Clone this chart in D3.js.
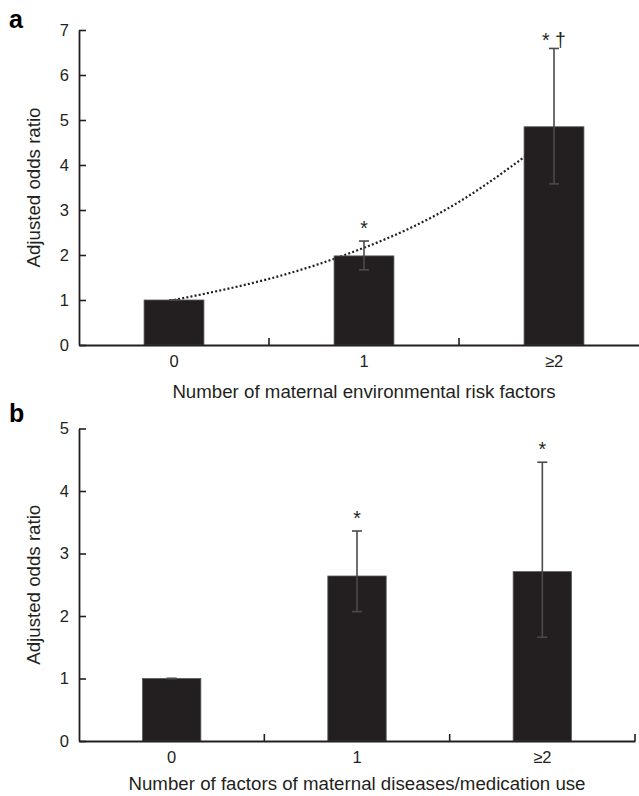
<!DOCTYPE html>
<html>
<head>
<meta charset="utf-8">
<script src="https://cdn.jsdelivr.net/npm/d3@7"></script>
<style>
  html, body { margin: 0; padding: 0; background: #fff; }
  svg { display: block; font-family: "Liberation Sans", Arial, Helvetica, sans-serif; }
</style>
</head>
<body>
<svg id="chart" width="639" height="796"></svg>
<script>
// ---------- data ----------
const categories = ["0", "1", "≥2"];

// Panel a: maternal environmental risk factors
const orA   = [1.0, 1.98, 4.85];
const loA   = [1.0, 1.67, 3.58];
const hiA   = [1.0, 2.31, 6.59];
const sigA  = ["", "*", "* †"];
const ticksA = [0, 1, 2, 3, 4, 5, 6, 7];
const trendPos = [0, 0.5, 1, 1.5, 2];          // position along categories (index units)
const trendA   = [1.0, 1.47, 2.16, 3.18, 4.68]; // dotted trend
const titleA = "Number of maternal environmental risk factors";

// Panel b: maternal diseases / medication use
const orB   = [1.0, 2.64, 2.71];
const loB   = [1.0, 2.07, 1.66];
const hiB   = [1.0, 3.36, 4.46];
const sigB  = ["", "*", "*"];
const ticksB = [0, 1, 2, 3, 4, 5];
const titleB = "Number of factors of maternal diseases/medication use";

const yTitle = "Adjusted odds ratio";

// ---------- drawing ----------
const ink = "#231f20";
const errInk = "#4a4a4a";
const svg = d3.select("#chart");

function panel(opts) {
  const g = svg.append("g");
  const x = d3.scaleBand().domain(categories).range([opts.left, opts.right]).padding(0);
  const y = d3.scaleLinear().domain([0, opts.ymax]).range([opts.bottom, opts.top]);
  const bw = x.bandwidth() * 0.315;
  const cx = c => x(c) + x.bandwidth() / 2;

  // trend line (behind bars)
  if (opts.trend) {
    const tx = d3.scaleLinear().domain([0, categories.length - 1])
      .range([cx(categories[0]), cx(categories[categories.length - 1])]);
    const line = d3.line().x((d, i) => tx(opts.trendPos[i])).y(d => y(d)).curve(d3.curveNatural);
    g.append("path").datum(opts.trend)
      .attr("d", line).attr("fill", "none")
      .attr("stroke", ink).attr("stroke-width", 2.2)
      .attr("stroke-dasharray", "2,2.2");
  }

  // bars
  g.selectAll("rect.bar").data(categories).join("rect")
    .attr("class", "bar")
    .attr("x", c => cx(c) - bw / 2)
    .attr("width", bw)
    .attr("y", (c, i) => y(opts.or[i]))
    .attr("height", (c, i) => y(0) - y(opts.or[i]))
    .attr("fill", ink).attr("stroke", "#5a5a5a").attr("stroke-width", 0.8);

  // error bars
  const eg = g.append("g").attr("stroke", errInk).attr("stroke-width", 1.6);
  categories.forEach((c, i) => {
    const xc = cx(c);
    eg.append("line").attr("x1", xc).attr("x2", xc).attr("y1", y(opts.lo[i])).attr("y2", y(opts.hi[i]));
    eg.append("line").attr("x1", xc - 5).attr("x2", xc + 5).attr("y1", y(opts.hi[i])).attr("y2", y(opts.hi[i]));
    eg.append("line").attr("x1", xc - 5).attr("x2", xc + 5).attr("y1", y(opts.lo[i])).attr("y2", y(opts.lo[i]));
  });

  // significance markers
  categories.forEach((c, i) => {
    if (!opts.sig[i]) return;
    const off = opts.sig[i].includes("†") ? 1 : 6;
    g.append("text")
      .attr("x", cx(c)).attr("y", y(opts.hi[i]) - off)
      .attr("text-anchor", "middle")
      .attr("font-size", 19.5).attr("fill", ink)
      .text(opts.sig[i]);
  });

  // y axis
  const ya = d3.axisLeft(y).tickValues(opts.ticks).tickFormat(d3.format("d"))
    .tickSizeInner(-7).tickSizeOuter(0).tickPadding(10);
  const yg = g.append("g").attr("transform", `translate(${opts.left},0)`).call(ya);
  yg.select(".domain").attr("stroke", ink).attr("stroke-width", 1.8);
  yg.selectAll(".tick line").attr("stroke", ink).attr("stroke-width", 1.6);
  yg.selectAll(".tick text").attr("font-size", 16.5).attr("fill", ink)
    .attr("font-family", "Liberation Sans, Arial, sans-serif");

  // x axis
  const xa = d3.axisBottom(x).tickSize(0).tickPadding(10);
  const xg = g.append("g").attr("transform", `translate(0,${opts.bottom})`).call(xa);
  xg.select(".domain").attr("stroke", ink).attr("stroke-width", 1.8);
  xg.selectAll(".tick text").attr("font-size", 16.5).attr("fill", ink)
    .attr("dy", null).attr("y", 22).attr("font-family", "Liberation Sans, Arial, sans-serif");
  // boundary ticks pointing up
  categories.forEach(c => {
    const bx = x(c) + x.bandwidth();
    xg.append("line").attr("x1", bx).attr("x2", bx).attr("y1", 0).attr("y2", -7)
      .attr("stroke", ink).attr("stroke-width", 1.6);
  });

  // titles
  g.append("text")
    .attr("x", cx(categories[1])).attr("y", opts.bottom + opts.titleGap)
    .attr("text-anchor", "middle").attr("font-size", 18.7).attr("fill", ink)
    .text(opts.xTitle);
  g.append("text")
    .attr("transform", `translate(39.5,${(opts.top + opts.bottom) / 2}) rotate(-90)`)
    .attr("text-anchor", "middle").attr("font-size", 18.7).attr("fill", ink)
    .text(yTitle);
  g.append("text")
    .attr("x", 9).attr("y", opts.letterY)
    .attr("font-size", 25).attr("font-weight", "bold").attr("fill", "#000")
    .text(opts.letter);
}

panel({
  left: 79, right: 649, top: 30, bottom: 345, ymax: 7,
  or: orA, lo: loA, hi: hiA, sig: sigA, ticks: ticksA,
  trend: trendA, trendPos: trendPos, xTitle: titleA, titleGap: 53, letter: "a", letterY: 28
});
panel({
  left: 79, right: 635, top: 428.5, bottom: 741, ymax: 5,
  or: orB, lo: loB, hi: hiB, sig: sigB, ticks: ticksB,
  xTitle: titleB, titleGap: 49, letter: "b", letterY: 422
});
</script>
</body>
</html>
